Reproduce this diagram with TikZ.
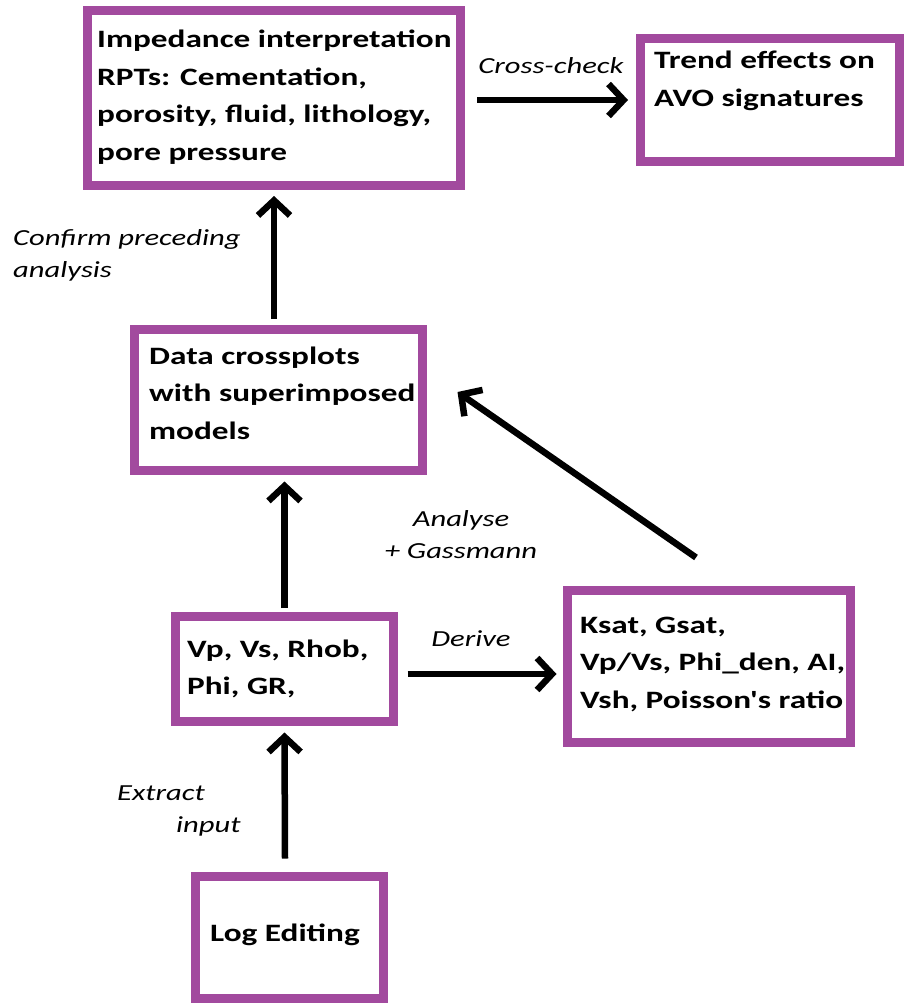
\documentclass[tikz,border=0pt]{standalone}
\usepackage{fontspec}
\setmainfont{Carlito}[FakeStretch=1.33]
\newfontfamily\cf{Carlito}[FakeStretch=1.33]
\usetikzlibrary{arrows.meta}
\definecolor{boxpurple}{RGB}{162,74,158}
\begin{document}
\begin{tikzpicture}[x=1pt,y=-1pt,
  box/.style={draw=boxpurple, line width=9pt, fill=white, inner sep=0pt},
  txt/.style={font=\cf\bfseries\fontsize{25}{37.5}\selectfont, align=left, inner sep=0pt, anchor=west},
  lbl/.style={font=\cf\itshape\fontsize{23}{32}\selectfont, inner sep=0pt},
  arr/.style={line width=6.5pt, -{Straight Barb[length=15pt,width=32pt,line width=6.5pt]}}]
\useasboundingbox[fill=white] (0,0) rectangle (904,1003);
% boxes
\node[box, minimum width=373pt, minimum height=175pt] (imp) at (274,98) {};
\node[box, minimum width=259pt, minimum height=123pt] (trend) at (770,100) {};
\node[box, minimum width=288pt, minimum height=141pt] (data) at (278.5,400) {};
\node[box, minimum width=218pt, minimum height=105pt] (vp) at (284.5,669) {};
\node[box, minimum width=283pt, minimum height=152pt] (ksat) at (709,666.5) {};
\node[box, minimum width=188pt, minimum height=122pt] (log) at (289.5,937.5) {};
% texts
\node[txt] (imptxt) at (97,97) {Impedance interpretation\\RPTs: Cementation,\\porosity, fluid, lithology,\\pore pressure};
\node[txt] (trendtxt) at (654,81) {Trend effects on\\AVO signatures};
\node[txt] (datatxt) at (149,393) {Data crossplots\\with superimposed\\models};
\node[txt] (vptxt) at (187,669) {Vp, Vs, Rhob,\\Phi, GR,};
\node[txt] (ksattxt) at (580,664) {Ksat, Gsat,\\Vp/Vs, Phi\_den, AI,\\Vsh, Poisson's ratio};
\node[txt, anchor=center] (logtxt) at (285,935) {Log Editing};
% labels
\node[lbl] (lcross) at (551,66) {Cross-check};
\node[lbl, anchor=west, align=left] (lconfirm) at (13,255) {Confirm preceding\\analysis};
\node[lbl, align=center] (lanalyse) at (461,535) {Analyse\\+ Gassmann};
\node[lbl] (lderive) at (471,639) {Derive};
\node[lbl, anchor=west, align=left] (lextract) at (117,811) {Extract\\\hspace*{59pt}input};
% connectors
\draw[arr] ([xshift=12pt,yshift=-2pt]imp.east) -- ([xshift=-8pt]trend.west);
\draw[arr] ([xshift=-4.5pt,yshift=6pt]data.north) -- ([yshift=-6pt]imp.south);
\draw[arr] ([yshift=4pt]vp.north) -- ([xshift=6pt,yshift=-6.5pt]data.south);
\draw[arr] ([xshift=-4.5pt,yshift=13.5pt]log.north) -- ([yshift=-6.5pt]vp.south);
\draw[arr] ([xshift=9.5pt,yshift=-5pt]vp.east) -- ([xshift=-6.5pt,yshift=-7.5pt]ksat.west);
\draw[arr] ([xshift=-13pt,yshift=28.5pt]ksat.north) -- ([xshift=30.5pt,yshift=8pt]data.east);
\end{tikzpicture}
\end{document}
